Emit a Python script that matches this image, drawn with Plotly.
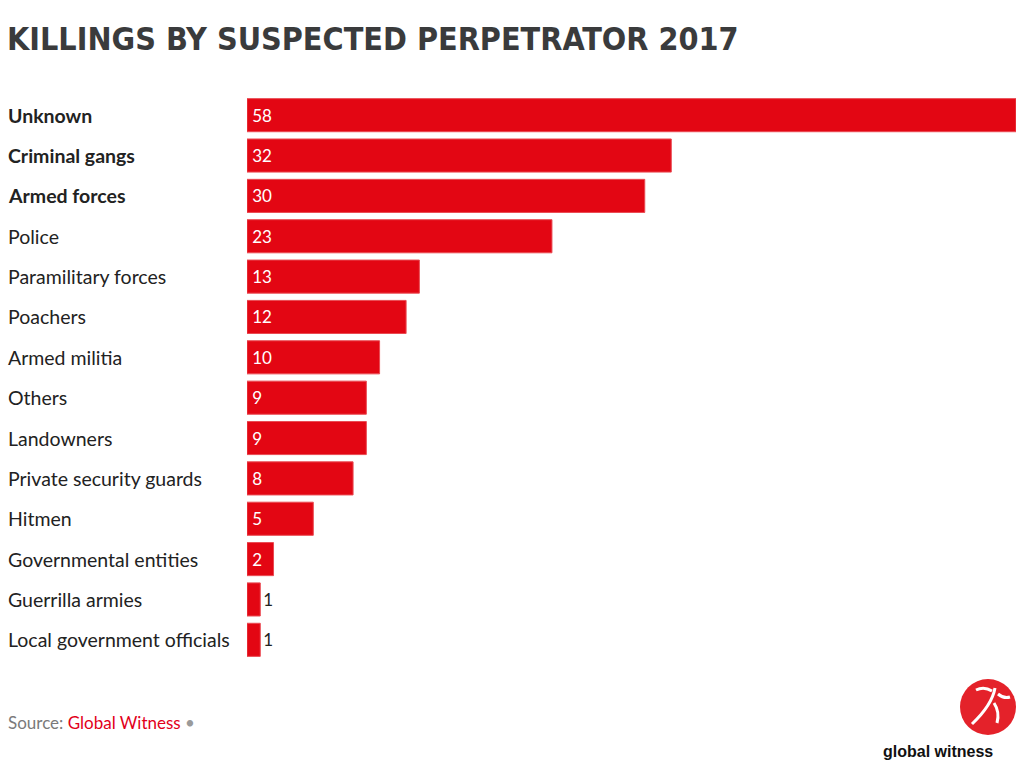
import plotly.graph_objects as go

categories = ["Unknown", "Criminal gangs", "Armed forces", "Police", "Paramilitary forces",
              "Poachers", "Armed militia", "Others", "Landowners", "Private security guards",
              "Hitmen", "Governmental entities", "Guerrilla armies", "Local government officials"]
values = [58, 32, 30, 23, 13, 12, 10, 9, 9, 8, 5, 2, 1, 1]
bold_categories = ["Unknown", "Criminal gangs", "Armed forces"]

W, H = 1024, 774
L, R, T, B = 247, 8, 95, 114
pw, ph = W - L - R, H - T - B

def px(x):
    return (x - L) / pw

def py(y):
    return (H - B - y) / ph

RED = "#e30613"
FONT = "Lato, 'Source Sans Pro', sans-serif"

positions = ["inside" if v >= 2 else "outside" for v in values]
labels = [("\u2009" + str(v)) if v >= 2 else str(v) for v in values]
fig = go.Figure(go.Bar(
    x=values, y=categories, orientation="h",
    marker=dict(color=RED, line=dict(color="#ea4a52", width=1)),
    text=labels, textposition=positions,
    insidetextanchor="start",
    insidetextfont=dict(color="white", size=17, family=FONT),
    outsidetextfont=dict(color="#222222", size=17, family=FONT),
    textangle=0, cliponaxis=False,
))

annotations = []
for c in categories:
    txt = f"<b>{c}</b>" if c in bold_categories else c
    annotations.append(dict(x=px(6), y=c, xref="paper", yref="y", text=txt,
                            showarrow=False, xanchor="left", yanchor="middle",
                            font=dict(size=19.5, color="#222222", family=FONT)))

annotations.append(dict(x=px(6), y=py(722), xref="paper", yref="paper",
                        text="<span style='color:#7a7a7a'>Source: </span>Global Witness<span style='color:#9a9a9a'> •</span>",
                        showarrow=False, xanchor="left", yanchor="middle",
                        font=dict(size=17, color="#e2001a", family=FONT)))
annotations.append(dict(x=px(938), y=py(751), xref="paper", yref="paper",
                        text="<b>global witness</b>", showarrow=False,
                        xanchor="center", yanchor="middle",
                        font=dict(size=16, color="#111111", family="Liberation Sans, Arial, sans-serif")))

shapes = [dict(type="circle", xref="paper", yref="paper",
               x0=px(960), x1=px(1016), y0=py(735), y1=py(679),
               fillcolor="#e4222a", line=dict(width=0), layer="above")]
# simple white arrow-ish strokes for logo
strokes = [
    f"M {px(976)} {py(690)} Q {px(984)} {py(686)} {px(992)} {py(691)}",
    f"M {px(995)} {py(688)} Q {px(992)} {py(705)} {px(972)} {py(724)}",
    f"M {px(994)} {py(703)} Q {px(1000)} {py(712)} {px(997)} {py(723)}",
    f"M {px(998)} {py(694)} Q {px(1004)} {py(699)} {px(1010)} {py(697)}",
]
for s in strokes:
    shapes.append(dict(type="path", xref="paper", yref="paper", path=s,
                       line=dict(color="white", width=3), layer="above"))

fig.update_layout(
    width=W, height=H,
    margin=dict(l=L, r=R, t=T, b=B),
    paper_bgcolor="white", plot_bgcolor="white",
    bargap=0.18,
    showlegend=False,
    title=dict(text="<b>KILLINGS BY SUSPECTED PERPETRATOR 2017</b>",
               x=7 / W, xanchor="left", xref="container",
               y=1 - 39 / H, yanchor="middle", yref="container",
               font=dict(size=32, color="#3a3b3c",
                         family="'Liberation Sans Narrow', 'DejaVu Sans Condensed', 'Roboto', sans-serif")),
    xaxis=dict(range=[0, 58], visible=False, fixedrange=True),
    yaxis=dict(autorange="reversed", showticklabels=False, showgrid=False,
               zeroline=False, showline=False, ticks=""),
    annotations=annotations,
    shapes=shapes,
)

fig.write_html("out.html")
